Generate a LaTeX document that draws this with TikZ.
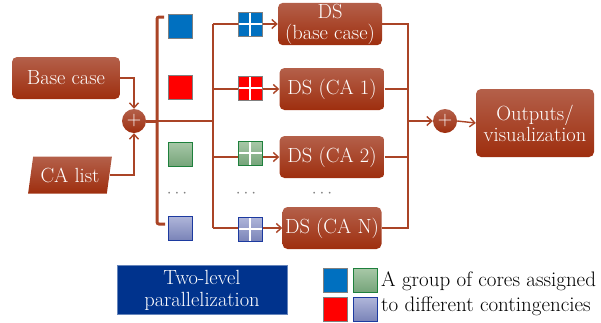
\documentclass[tikz,border=0pt]{standalone}
\usetikzlibrary{shapes.geometric,arrows.meta}
\definecolor{rust}{RGB}{170,68,38}
\definecolor{rusttop}{RGB}{180,96,74}
\definecolor{rustbot}{RGB}{158,46,14}
\definecolor{navy}{RGB}{0,51,141}
\definecolor{coreblue}{RGB}{0,112,192}
\definecolor{corered}{RGB}{255,0,0}
\definecolor{greentop}{RGB}{168,200,168}
\definecolor{greenbot}{RGB}{118,164,122}
\definecolor{greenline}{RGB}{30,128,60}
\definecolor{lavtop}{RGB}{176,182,218}
\definecolor{lavbot}{RGB}{122,132,184}
\definecolor{lavline}{RGB}{28,58,160}
\tikzset{
  block/.style={rounded corners=5pt, top color=rusttop, bottom color=rustbot,
    text=white, align=center, minimum height=42pt, inner sep=1pt,
    font=\fontsize{20.5}{21}\selectfont},
  sumnode/.style={circle, top color=rusttop, bottom color=rustbot, text=white,
    minimum size=24pt, inner sep=0pt, font=\fontsize{20}{20}\selectfont},
  wire/.style={draw=rust, line width=1.4pt},
  tip/.style={-{Straight Barb[length=5pt,width=9pt]}},
  core/.style={minimum size=24pt, inner sep=0pt, line width=1pt},
  blue core/.style={core, fill=coreblue, draw=gray},
  red core/.style={core, fill=corered, draw=gray},
  green core/.style={core, top color=greentop, bottom color=greenbot, draw=greenline},
  lav core/.style={core, top color=lavtop, bottom color=lavbot, draw=lavline},
  split/.style={path picture={
    \draw[white, line width=1.2pt] (path picture bounding box.north) -- (path picture bounding box.south);
    \draw[white, line width=1.2pt] (path picture bounding box.west) -- (path picture bounding box.east);}},
  dots/.style={text=gray, font=\fontsize{18}{18}\selectfont}
}
\begin{document}
\begin{tikzpicture}[x=1pt,y=-1pt]
  \useasboundingbox (0,0) rectangle (601,322);

  % inputs
  \node[block, minimum width=108pt] (base) at (66,78) {Base case};
  \node[trapezium, trapezium left angle=76, trapezium right angle=104,
        trapezium stretches=true, top color=rusttop, bottom color=rustbot,
        text=white, minimum width=84pt, minimum height=37pt, inner sep=1pt,
        font=\fontsize{20.5}{21}\selectfont] (calist) at (70,175) {CA list};
  \node[sumnode] (sum1) at (134,121) {+};

  \draw[wire, tip] (base.east) -| (sum1.north);
  \draw[wire, tip] (calist.east) -| (sum1.south);

  % first level: groups of cores
  \coordinate (brtop) at (157,17);
  \coordinate (brmid) at (157,121);
  \coordinate (brbot) at (157,224);
  \draw[rust, line width=3pt, rounded corners=2pt]
    ([xshift=7pt]brtop) -- (brtop) -- (brbot) -- ([xshift=8pt]brbot);
  \draw[rust, line width=3pt] (sum1.east) -- (brmid);

  \node[blue core] (g0) at (180,26) {};
  \node[red core] (g1) at (180,87) {};
  \node[green core] (g2) at (180,154) {};
  \node[dots] (gd) at (177,194) {$\cdots$};
  \node[lav core] (gn) at (180,228) {};

  % second level: one DS run per contingency
  \node[block, minimum width=104pt] (ds0) at (330,24) {DS\\(base case)};
  \node[block, minimum width=105pt] (ds1) at (332,89) {DS (CA 1)};
  \node[block, minimum width=105pt] (ds2) at (332,157) {DS (CA 2)};
  \node[dots] (dsd) at (322,194) {$\cdots$};
  \node[block, minimum width=99pt] (dsn) at (332,228) {DS (CA N)};

  \coordinate (fork) at (213,121);
  \draw[wire] (sum1.east) -- (fork);
  \draw[wire] (fork |- ds0.west) -- (fork |- dsn.west);
  \foreach \ds in {ds0,ds1,ds2,dsn}
    \draw[wire, tip] (fork |- \ds.west) -- (\ds.west);

  \node[blue core, split] (c0) at (250,24) {};
  \node[red core, split] (c1) at (250,88) {};
  \node[green core, split] (c2) at (250,153) {};
  \node[dots] (cd) at (246,194) {$\cdots$};
  \node[lav core, split] (cn) at (250,229) {};

  % collecting the results
  \coordinate (merge) at (408,121);
  \draw[wire] (ds0.east) -- (ds0.east -| merge) -- (dsn.east -| merge) -- (dsn.east);
  \draw[wire] (ds1.east) -- (ds1.east -| merge);
  \draw[wire] (ds2.east) -- (ds2.east -| merge);
  \node[sumnode] (sum2) at (445,121) {+};
  \node[block, minimum width=118pt, minimum height=68pt] (out) at (535,123) {Outputs/\\visualization};
  \draw[wire, tip] (merge) -- (sum2.west);
  \draw[wire, tip] (sum2.east) -- (out.west);

  % legend
  \node[fill=navy, draw=navy!60, text=white, align=center, minimum width=170pt,
        minimum height=49pt, inner sep=0pt, font=\fontsize{20.5}{22}\selectfont]
        (title) at (202,290) {Two-level\\parallelization};
  \node[blue core] (l0) at (335,280) {};
  \node[green core] (l2) at (365,280) {};
  \node[red core] (l1) at (335,309) {};
  \node[lav core] (ln) at (365,309) {};
  \node[anchor=west, align=left, inner sep=0pt, font=\fontsize{21}{25}\selectfont]
        (legtext) at (381,294) {A group of cores assigned\\to different contingencies};
\end{tikzpicture}
\end{document}
